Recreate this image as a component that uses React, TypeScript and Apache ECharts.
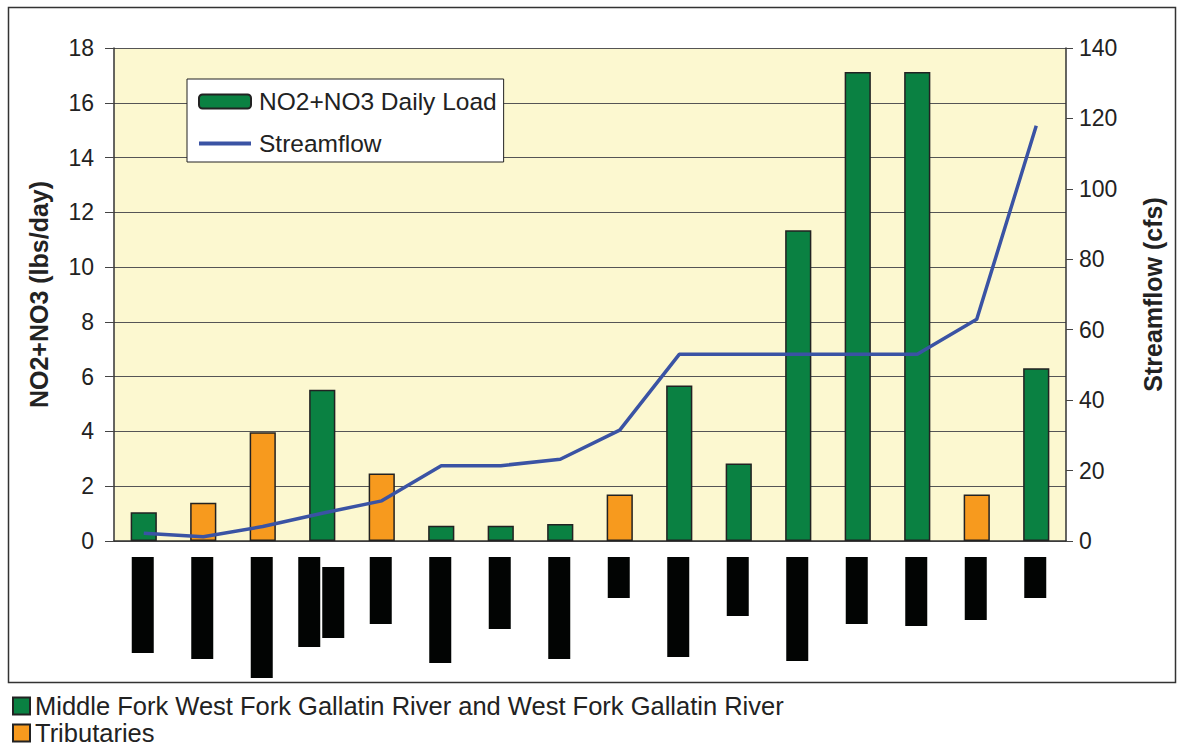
import React, { useEffect, useRef } from "react";
import * as echarts from "echarts";

const categories = ["S1", "S2", "S3", "S4", "S5", "S6", "S7", "S8", "S9", "S10", "S11", "S12", "S13", "S14", "S15", "S16"];
const siteGroup = ["M", "T", "T", "M", "T", "M", "M", "M", "T", "M", "M", "M", "M", "M", "T", "M"];
const dailyLoad = [1.05, 1.4, 3.97, 5.52, 2.46, 0.56, 0.56, 0.62, 1.7, 5.68, 2.83, 11.35, 17.12, 17.12, 1.7, 6.31];
const streamflow = [2.2, 1.2, 4.1, 7.9, 11.4, 21.4, 21.4, 23.2, 31.5, 53.0, 53.0, 53.0, 53.0, 53.0, 63.0, 117.9];
// redacted category labels: [category index, start, end, lane]
const labelBoxes = [
  [0, 0, 96, 0], [1, 0, 102, 0], [2, 0, 121, 0], [3, 0, 90, -1], [3, 10, 81, 1],
  [4, 0, 67, 0], [5, 0, 106, 0], [6, 0, 72, 0], [7, 0, 102, 0], [8, 0, 41, 0],
  [9, 0, 100, 0], [10, 0, 59, 0], [11, 0, 104, 0], [12, 0, 67, 0], [13, 0, 69, 0],
  [14, 0, 63, 0], [15, 0, 41, 0],
];
const leftTicks = { min: 0, max: 18, interval: 2 };
const rightTicks = { min: 0, max: 140, interval: 20 };

const GREEN = "#0A8142";
const ORANGE = "#F79A1E";
const LINE = "#3A53A4";

export default function App() {
  const ref = useRef<HTMLDivElement>(null);
  useEffect(() => {
    const chart = echarts.init(ref.current!, null, { renderer: "svg" });
    const font = "'Liberation Sans', Arial, sans-serif";
    chart.setOption({
      animation: false,
      backgroundColor: "#ffffff",
      textStyle: { fontFamily: font },
      graphic: [
        {
          type: "rect",
          shape: { x: 8.5, y: 7.5, width: 1167, height: 675 },
          style: { fill: "none", stroke: "#333", lineWidth: 1.5 },
          z: -1,
        },
      ],
      legend: [
        {
          data: [
            "NO2+NO3 Daily Load",
            { name: "Streamflow", itemStyle: { opacity: 0 }, lineStyle: { width: 4, color: LINE } },
          ],
          orient: "vertical",
          left: 187,
          top: 79,
          backgroundColor: "#ffffff",
          borderColor: "#222",
          borderWidth: 1,
          padding: [10, 7, 6, 10],
          itemWidth: 52,
          itemHeight: 14,
          itemGap: 17,
          textStyle: { fontSize: 24.5, color: "#222", fontFamily: font, lineHeight: 24, padding: [0, 0, 0, 3] },
          selectedMode: false,
        },
        {
          data: ["Middle Fork West Fork Gallatin River and West Fork Gallatin River", "Tributaries"],
          orient: "vertical",
          left: 12,
          top: 693,
          height: 60,
          padding: 0,
          itemWidth: 17,
          itemHeight: 17,
          itemGap: 1,
          icon: "rect",
          textStyle: { fontSize: 25.5, color: "#222", fontFamily: font, lineHeight: 26 },
          selectedMode: false,
        },
      ],
      grid: [
        { left: 114, top: 48, width: 952, height: 493, show: true, backgroundColor: "#FCF8D0", borderWidth: 0 },
        { left: 114, top: 557, width: 952, height: 130 },
      ],
      xAxis: [
        {
          type: "category",
          gridIndex: 0,
          data: categories,
          axisLine: { lineStyle: { color: "#333", width: 1.5 } },
          axisTick: { length: 7, lineStyle: { color: "#444" } },
          axisLabel: { show: false },
        },
        {
          type: "category",
          gridIndex: 0,
          data: categories,
          position: "bottom",
          axisLine: { show: false },
          axisTick: { inside: true, length: 6, lineStyle: { color: "#444" } },
          axisLabel: { show: false },
        },
        {
          type: "category",
          gridIndex: 1,
          data: categories,
          show: false,
        },
      ],
      yAxis: [
        {
          type: "value",
          gridIndex: 0,
          ...leftTicks,
          name: "NO2+NO3 (lbs/day)",
          nameLocation: "middle",
          nameGap: 63,
          nameTextStyle: { fontSize: 25, fontWeight: "bold", color: "#222", fontFamily: font },
          axisLine: { show: true, lineStyle: { color: "#333", width: 1.5 } },
          axisTick: { show: true, length: 9, lineStyle: { color: "#444" } },
          axisLabel: { fontSize: 23, color: "#222", margin: 20, fontFamily: font },
          splitLine: { lineStyle: { color: "#555", width: 1 } },
        },
        {
          type: "value",
          gridIndex: 0,
          position: "right",
          ...rightTicks,
          name: "Streamflow (cfs)",
          nameLocation: "middle",
          nameGap: 74,
          nameTextStyle: { fontSize: 25, fontWeight: "bold", color: "#222", fontFamily: font },
          axisLine: { show: true, lineStyle: { color: "#333", width: 1.5 } },
          axisTick: { show: true, length: 7, lineStyle: { color: "#444" } },
          axisLabel: { fontSize: 23, color: "#222", margin: 13, fontFamily: font },
          splitLine: { show: false },
        },
        {
          type: "value",
          gridIndex: 1,
          min: 0,
          max: 130,
          inverse: true,
          show: false,
        },
      ],
      series: [
        {
          name: "NO2+NO3 Daily Load",
          type: "bar",
          xAxisIndex: 0,
          yAxisIndex: 0,
          barWidth: "44%",
          itemStyle: { color: GREEN, borderColor: "#222", borderWidth: 1.5 },
          data: dailyLoad.map((v, i) => ({
            value: v,
            itemStyle: { color: siteGroup[i] === "T" ? ORANGE : GREEN },
          })),
          z: 2,
        },
        {
          name: "Streamflow",
          type: "line",
          xAxisIndex: 0,
          yAxisIndex: 1,
          symbol: "none",
          lineStyle: { color: LINE, width: 3.5 },
          itemStyle: { color: LINE },
          data: streamflow,
          z: 3,
        },
        {
          name: "Middle Fork West Fork Gallatin River and West Fork Gallatin River",
          type: "bar",
          xAxisIndex: 2,
          yAxisIndex: 2,
          itemStyle: { color: GREEN, borderColor: "#222", borderWidth: 1.5 },
          data: [],
        },
        {
          name: "Tributaries",
          type: "bar",
          xAxisIndex: 2,
          yAxisIndex: 2,
          itemStyle: { color: ORANGE, borderColor: "#222", borderWidth: 1.5 },
          data: [],
        },
        {
          name: "labels",
          type: "custom",
          xAxisIndex: 2,
          yAxisIndex: 2,
          silent: true,
          data: labelBoxes,
          renderItem: (params: any, api: any) => {
            const cat = api.value(0);
            const p0 = api.coord([cat, api.value(1)]);
            const p1 = api.coord([cat, api.value(2)]);
            const w = 22;
            const x = p0[0] - 1 + api.value(3) * 12 - w / 2;
            return {
              type: "rect",
              shape: { x, y: p0[1], width: w, height: p1[1] - p0[1] },
              style: { fill: "#020403" },
            };
          },
        },
      ],
    });
    return () => chart.dispose();
  }, []);
  return (
    <div
      ref={ref}
      style={{ position: "fixed", left: 0, top: 0, width: 1178, height: 747 }}
    />
  );
}
